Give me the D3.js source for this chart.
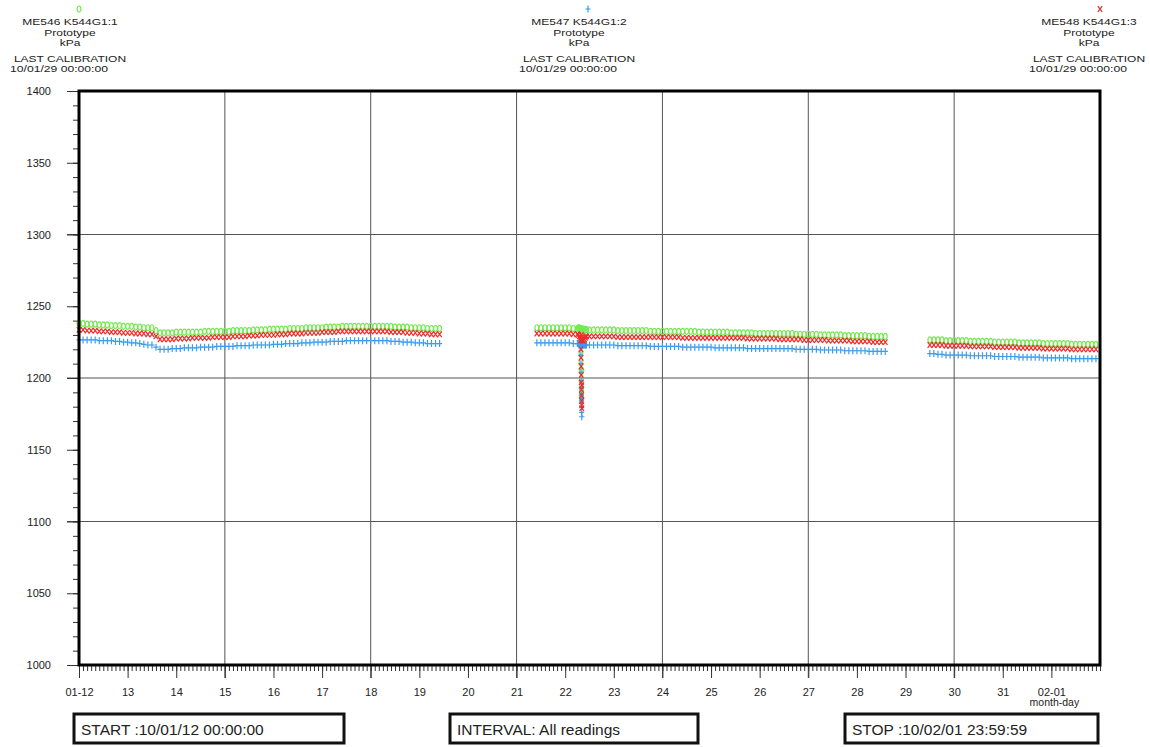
<!DOCTYPE html>
<html><head><meta charset="utf-8">
<script src="https://cdn.jsdelivr.net/npm/d3@7"></script>
<style>
body{margin:0;background:#fff;}
svg{display:block;font-family:"Liberation Sans",Arial,Helvetica,sans-serif;}
</style>
</head><body>
<svg id="chart" width="1150" height="747"></svg>
<script>
// ---------------- DATA ----------------
const dayLabels = ["01-12","13","14","15","16","17","18","19","20","21","22","23","24","25","26","27","28","29","30","31","02-01"];
const yTickValues = [1000,1050,1100,1150,1200,1250,1300,1350,1400];
const gridValues = [1100,1200,1300];
const gridHours = [72,144,216,288,360,432];   // 15, 18, 21, 24, 27, 30
const sensorNames = ["ME546 K544G1:1","ME547 K544G1:2","ME548 K544G1:3"];
const sensorType = "Prototype";
const sensorUnit = "kPa";
const calibration = "10/01/29 00:00:00";
const startText = "START :10/01/12 00:00:00";
const intervalText = "INTERVAL: All readings";
const stopText = "STOP :10/02/01 23:59:59";

// readings every 2 hours, hours counted from 01-12 00:00
const readingStep = 2;
const seg1Start = 0, seg2Start = 226, seg3Start = 420;

const greenSeg1 = [1238,1238,1237.5,1237.5,1237.5,1237,1237,1237,1236.5,1236.5,1236.5,1236,1236,1236,1235.5,1235.5,1235,1235,1235,
 1233,
 1231.5,1231.5,1231.5,1231.5,1232,1232,1232,1232,1232,1232,1232,1232.5,1232.5,1232.5,1232.5,1232.5,
 1232.5,1232.5,1233,1233,1233,1233,1233,1233.5,1233.5,1233.5,1233.5,1234,1234,1234,1234,1234,1234.5,1234.5,1234.5,1234.5,1235,1235,1235,1235,
 1235,1235.5,1235.5,1235.5,1235.5,1236,1236,1236,1236,1236,1236,1236,1236,1236,1236,1236,
 1236,1236,1235.5,1235.5,1235.5,1235.5,1235,1235,1235,1235,1234.5,1234.5,1234.5,1234.5];
const redSeg1 = [1233.5,1233.5,1233,1233,1233,1232.5,1232.5,1232.5,1232,1232,1232,1231.5,1231.5,1231.5,1231,1231,1231,1230.5,1230.5,
 1229,
 1227,1227,1227,1227,1227.5,1227.5,1227.5,1227.5,1228,1228,1228,1228,1228,1228.5,1228.5,1228.5,
 1228.5,1228.5,1229,1229,1229,1229,1229.5,1229.5,1229.5,1230,1230,1230,1230,1230.5,1230.5,1230.5,1231,1231,1231,1231,1231.5,1231.5,1231.5,1231.5,
 1232,1232,1232,1232,1232.5,1232.5,1232.5,1232.5,1232.5,1232.5,1232.5,1232.5,1232.5,1232.5,1232.5,1232.5,
 1232.5,1232,1232,1232,1232,1231.5,1231.5,1231.5,1231,1231,1231,1230.5,1230.5,1230.5];
const blueSeg1 = [1226.5,1226.5,1226.5,1226.5,1226.5,1226,1226,1226,1226,1225.5,1225.5,1225,1225,1224.5,1224.5,1224,1223.5,1223,1223,
 1221.5,
 1220,1220,1220,1220.5,1220.5,1220.5,1221,1221,1221,1221,1221.5,1221.5,1221.5,1221.5,1222,1222,
 1222,1222,1222,1222.5,1222.5,1222.5,1222.5,1223,1223,1223,1223,1223,1223.5,1223.5,1223.5,1224,1224,1224,1224,1224.5,1224.5,1224.5,1225,1225,
 1225,1225,1225.5,1225.5,1225.5,1225.5,1226,1226,1226,1226,1226,1226,1226,1226,1226,1226,
 1226,1225.5,1225.5,1225.5,1225,1225,1225,1224.5,1224.5,1224.5,1224,1224,1224,1224];

const greenSeg2 = [1235,1235,1235,1235,1235,1235,1235,1235,1235,1234.5,1234.5,
 1234,
 1233.5,1233.5,1233.5,1233.5,1233.5,1233.5,1233.5,1233.5,1233,1233,1233,1233,1233,1233,1233,1233,1232.5,1232.5,1232.5,1232.5,1232.5,1232.5,1232.5,1232.5,
 1232.5,1232.5,1232.5,1232.5,1232,1232,1232,1232,1232,1232,1232,1232,1231.5,1231.5,1231.5,1231.5,1231.5,1231.5,1231,1231,1231,1231,1231,1231,
 1231,1231,1231,1231,1230.5,1230.5,1230.5,1230.5,1230.5,1230.5,1230,1230,1230,1230,1230,1230,1229.5,1229.5,1229.5,1229.5,1229.5,1229.5,1229,1229,1229,1229,1229];
const redSeg2 = [1231,1231,1231,1231,1231,1231,1231,1231,1231,1230.5,1230.5,
 1230,
 1229,1229,1229,1229,1229,1229,1229,1229,1228.5,1228.5,1228.5,1228.5,1228.5,1228.5,1228.5,1228.5,1228.5,1228.5,1228.5,1228.5,1228.5,1228.5,1228.5,1228.5,
 1228,1228,1228,1228,1228,1228,1228,1228,1228,1228,1228,1228,1228,1228,1228,1228,1227.5,1227.5,1227.5,1227.5,1227.5,1227.5,1227.5,1227.5,
 1227,1227,1227,1227,1227,1227,1226.5,1226.5,1226.5,1226.5,1226.5,1226.5,1226,1226,1226,1226,1226,1226,1225.5,1225.5,1225.5,1225.5,1225.5,1225,1225,1225,1225];
const blueSeg2 = [1224.5,1224.5,1224.5,1224.5,1224.5,1224.5,1224.5,1224.5,1224.5,1224,1224,
 1223.5,
 1223,1223,1223,1223,1223,1223,1223,1223,1222.5,1222.5,1222.5,1222.5,1222.5,1222.5,1222.5,1222.5,1222,1222,1222,1222,1222,1222,1222,1222,
 1221.5,1221.5,1221.5,1221.5,1221.5,1221.5,1221.5,1221.5,1221,1221,1221,1221,1221,1221,1221,1221,1220.5,1220.5,1220.5,1220.5,1220.5,1220.5,1220.5,1220.5,
 1220.5,1220.5,1220.5,1220.5,1220,1220,1220,1220,1220,1220,1219.5,1219.5,1219.5,1219.5,1219.5,1219.5,1219,1219,1219,1219,1219,1219,1218.5,1218.5,1218.5,1218.5,1218.5];

const greenSeg3 = [1226.5,1226.5,1226.5,1226.5,1226,1226,1226,1226,1226,1226,1225.5,1225.5,1225.5,1225.5,1225.5,1225.5,
 1225,1225,1225,1225,1225,1225,1224.5,1224.5,1224.5,1224.5,1224.5,1224.5,1224,1224,1224,1224,1224,1224,1224,1223.5,1223.5,1223.5,1223.5,1223.5,1223.5,1223.5];
const redSeg3 = [1223,1223,1223,1223,1222.5,1222.5,1222.5,1222.5,1222.5,1222.5,1222,1222,1222,1222,1222,1222,
 1221.5,1221.5,1221.5,1221.5,1221.5,1221.5,1221,1221,1221,1221,1221,1221,1220.5,1220.5,1220.5,1220.5,1220.5,1220.5,1220.5,1220,1220,1220,1220,1220,1220,1220];
const blueSeg3 = [1217,1217,1216.5,1216.5,1216,1216,1216,1216,1216,1216,1215.5,1215.5,1215.5,1215.5,1215.5,1215.5,
 1215,1215,1215,1215,1215,1215,1214.5,1214.5,1214.5,1214.5,1214.5,1214.5,1214,1214,1214,1214,1214,1214,1214,1213.5,1213.5,1213.5,1213.5,1213.5,1213.5,1213.5];

// burst of readings around 01-22 08:00 (pressure dip)
const spikeHours = [246.5,247,247.5,248,248.5,249,249.5,250,250.5,
 247.7,247.75,247.8,247.85,247.9,247.95,248.0,248.05,248.1,248.15,248.2,248.25];
const greenSpike = [1235,1235,1234.5,1234.5,1234,1234,1233.5,1233.5,1233.5,
 1230,1224,1218,1212,1206,1200,1196,1192,1188,1185,1190,1205];
const redSpike = [1230,1229,1228,1227,1226,1226,1227,1228,1229,
 1226,1220,1214,1208,1202,1197,1192,1188,1184,1181,1179,1195];
const blueSpike = [1224,1224,1223.5,1223.5,1223,1223,1223,1223,1223,
 1221,1216,1210,1204,1198,1193,1188,1184,1180,1176,1173,1186];

// ---------------- BUILD ----------------
function seg(start, vals){ return vals.map((v,i)=>({t:start+i*readingStep, v})); }
function spike(vals){ return vals.map((v,i)=>({t:spikeHours[i], v})); }
const series = [
  {key:"green", color:"#74ea50", shape:"circle",
   data:[...seg(seg1Start,greenSeg1),...seg(seg2Start,greenSeg2),...spike(greenSpike),...seg(seg3Start,greenSeg3)]},
  {key:"blue", color:"#3a9cf0", shape:"plus",
   data:[...seg(seg1Start,blueSeg1),...seg(seg2Start,blueSeg2),...spike(blueSpike),...seg(seg3Start,blueSeg3)]},
  {key:"red", color:"#f02828", shape:"cross",
   data:[...seg(seg1Start,redSeg1),...seg(seg2Start,redSeg2),...spike(redSpike),...seg(seg3Start,redSeg3)]}
];

const svg = d3.select("#chart");
const L=79, R=1100, T=91, B=665;
const x = d3.scaleLinear().domain([0, 504]).range([L, R]);
const y = d3.scaleLinear().domain([1000, 1400]).range([B, T]);

const shapes = {
  plus: "M-2.6,0H2.6M0,-3.5V3.5",
  cross: "M-2.2,-2.8L2.2,2.8M-2.2,2.8L2.2,-2.8"
};
function drawMarker(g, shape, color){
  if(shape==="circle"){
    g.append("ellipse").attr("rx",1.9).attr("ry",3).attr("fill","none").attr("stroke",color).attr("stroke-width",1.2);
  } else {
    g.append("path").attr("d",shapes[shape]).attr("fill","none").attr("stroke",color).attr("stroke-width",1.2);
  }
}

// grid
svg.append("g").selectAll("line").data(gridValues).join("line")
  .attr("x1",67).attr("x2",R).attr("y1",d=>y(d)).attr("y2",d=>y(d))
  .attr("stroke","#555").attr("stroke-width",1);
svg.append("g").selectAll("line").data(gridHours).join("line")
  .attr("y1",T).attr("y2",678).attr("x1",d=>x(d)).attr("x2",d=>x(d))
  .attr("stroke","#555").attr("stroke-width",1);

// y axis
const yMinor = d3.range(1000, 1401, 10);
const yAxisMinor = svg.append("g").attr("transform",`translate(${L},0)`)
  .call(d3.axisLeft(y).tickValues(yMinor).tickSize(6).tickFormat(""));
const yAxis = svg.append("g").attr("transform",`translate(${L},0)`)
  .call(d3.axisLeft(y).tickValues(yTickValues).tickSize(12).tickPadding(16).tickFormat(d3.format("d")));
[yAxisMinor,yAxis].forEach(a=>{a.select(".domain").remove(); a.selectAll(".tick line").attr("stroke","#333");});
yAxis.selectAll("text").attr("font-size",11).attr("fill","#222").attr("font-family","Liberation Sans, Arial, sans-serif");

// x axis
const xMinor = d3.range(0, 505, 2);
const xAxisMinor = svg.append("g").attr("transform",`translate(0,${B})`)
  .call(d3.axisBottom(x).tickValues(xMinor).tickSize(6).tickFormat(""));
const xAxis = svg.append("g").attr("transform",`translate(0,${B})`)
  .call(d3.axisBottom(x).tickValues(dayLabels.map((d,i)=>i*24)).tickSize(13).tickPadding(10)
    .tickFormat((d,i)=>dayLabels[i]));
[xAxisMinor,xAxis].forEach(a=>{a.select(".domain").remove(); a.selectAll(".tick line").attr("stroke","#333");});
xAxis.selectAll("text").attr("font-size",11).attr("fill","#222").attr("font-family","Liberation Sans, Arial, sans-serif");
svg.append("text").attr("x",x(480)+3).attr("y",706).attr("text-anchor","middle")
  .attr("font-size",10.5).attr("fill","#222").text("month-day");

// data markers
series.forEach(s=>{
  const g = svg.append("g");
  s.data.forEach(d=>{
    const m = g.append("g").attr("transform",`translate(${x(d.t)},${y(d.v)})`);
    drawMarker(m, s.shape, s.color);
  });
});

// frame
svg.append("rect").attr("x",L).attr("y",T).attr("width",R-L).attr("height",B-T)
  .attr("fill","none").attr("stroke","#000").attr("stroke-width",3);

// header
const headerCenters = [70, 579, 1089];
const headerMarks = [79, 588, 1100];
const headerShapes = ["circle","plus","cross"];
const headerColors = ["#74ea50","#3a9cf0","#f02828"];
sensorNames.forEach((name,i)=>{
  const c = headerCenters[i];
  const hm = svg.append("g").attr("transform",`translate(${headerMarks[i]},9)`);
  drawMarker(hm, headerShapes[i], headerColors[i]);
  const lines = [[name,25],[sensorType,35.5],[sensorUnit,46],["LAST CALIBRATION",62]];
  lines.forEach(([t,yy])=>{
    svg.append("text").attr("transform",`translate(${c},${yy}) scale(1,0.78)`).attr("text-anchor","middle")
      .attr("font-size",12).attr("fill","#222").text(t);
  });
  svg.append("text").attr("transform",`translate(${c-60},72) scale(1,0.85)`).attr("font-size",11.5).attr("fill","#222")
    .attr("textLength",98).attr("lengthAdjust","spacingAndGlyphs").text(calibration);
});

// bottom boxes
const boxes = [[74,270,startText],[450,248,intervalText],[845,253,stopText]];
boxes.forEach(([bx,bw,t])=>{
  svg.append("rect").attr("x",bx).attr("y",714).attr("width",bw).attr("height",29)
    .attr("fill","none").attr("stroke","#111").attr("stroke-width",3);
  svg.append("text").attr("x",bx+7).attr("y",735).attr("font-size",15.5).attr("fill","#222").text(t);
});
</script>
</body></html>
